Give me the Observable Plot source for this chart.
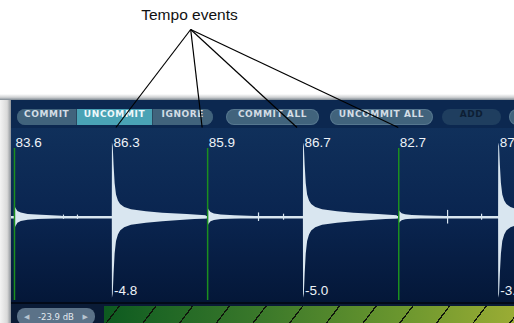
<!DOCTYPE html>
<html><head><meta charset="utf-8">
<script src="https://cdn.jsdelivr.net/npm/d3@7"></script>
<script src="https://cdn.jsdelivr.net/npm/@observablehq/plot@0.6"></script>
<style>
html,body{margin:0;padding:0;background:#fff;width:514px;height:323px;overflow:hidden;}
#root{position:relative;width:514px;height:323px;overflow:hidden;}
.abs{position:absolute;}
#title{left:0;width:379px;top:6px;line-height:18px;text-align:center;font-size:15.5px;font-family:"Liberation Sans",Arial,sans-serif;color:#111;}
#bevelTop{left:0;top:94px;width:514px;height:6px;background:linear-gradient(#ffffff,#cfd1d3 55%,#7d8791);}
#bevelLeft{left:0;top:100px;width:11px;height:223px;background:linear-gradient(to right,#f3f3f3,#d9d9d9 65%,#8b9197);}
#panel{left:11px;top:100px;width:503px;height:223px;background:#0c2850;}
.btn{position:absolute;top:109px;height:16px;line-height:16px;text-align:center;font:bold 9px "DejaVu Sans",sans-serif;letter-spacing:0.6px;color:#d3dde5;background:#41637c;border-radius:8px;box-shadow:inset 0 0 0 1px rgba(150,180,200,0.25);}
#group1{position:absolute;left:17px;top:109px;width:196px;height:16px;border-radius:8px;overflow:hidden;display:flex;box-shadow:inset 0 0 0 1px rgba(150,180,200,0.25);}
#group1 div{height:16px;line-height:16px;text-align:center;font:bold 9px "DejaVu Sans",sans-serif;letter-spacing:0.6px;color:#d3dde5;background:#41637c;}
#group1 div.on{background:#4aa3b5;color:#eef8fb;}
#wave{left:11px;top:128px;width:503px;height:174px;background:linear-gradient(#10305b,#0a2550 50%,#041738);}
#bottomRow{left:11px;top:302px;width:503px;height:21px;background:#0a1b36;border-top:2px solid #020a18;box-sizing:border-box;}
#db{left:17px;top:308px;width:78px;height:17px;border-radius:8px;background:#5b7288;display:flex;justify-content:space-between;align-items:center;padding:0 7px;box-sizing:border-box;font:8.5px "DejaVu Sans",sans-serif;color:#e2e9ef;}
#db span.ar{font-size:7px;color:#b7c4d0;}
#strip{left:104px;top:306px;width:410px;height:17px;
 background:repeating-linear-gradient(127.4deg,transparent 0px,transparent 11.5px,#10160c 11.5px,#10160c 12.8px,transparent 12.8px,transparent 29.15px),
 linear-gradient(to right,#0d5a20 0%,#1c6524 12%,#2b6e27 25%,#3a782a 38%,#6a962e 72%,#9aac34 100%);}
</style>
</head><body>
<div id="root">
  <div id="title" class="abs"></div>
  <div id="bevelTop" class="abs"></div>
  <div id="bevelLeft" class="abs"></div>
  <div id="panel" class="abs"></div>
  <div id="wave" class="abs"></div>
  <div id="bottomRow" class="abs"></div>
  <div id="db" class="abs"><span class="ar">◀</span><span id="dbText"></span><span class="ar">▶</span></div>
  <div id="strip" class="abs"></div>
</div>
<script>
// ---------- data ----------
const titleText = "Tempo events";
const groupButtons = ["COMMIT", "UNCOMMIT", "IGNORE"];
const activeButton = "UNCOMMIT";
const singleButtons = ["COMMIT ALL", "UNCOMMIT ALL", "ADD", ""];
const thresholdLabel = "-23.9 dB";

// tempo events (time in seconds)
const eventTimes = [0, 0.72, 1.42, 2.125, 2.825, 3.56];
const eventTempos = ["83.6", "86.3", "85.9", "86.7", "82.7", "87.1"];
const eventKinds = ["marker", "transient", "marker", "transient", "marker", "transient"];
const eventGains = [null, "-4.8", null, "-5.0", null, "-3.9"];
const peakUp = [0.15, 0.87, 0.12, 0.87, 0.09, 0.87];
const peakDown = [0.16, 0.95, 0.12, 0.95, 0.09, 0.95];
// events that the "Tempo events" callout points at
const calloutEvents = [1, 2, 3, 4];

// decay envelopes (offset s, relative level)
const bigOffsets = [0, 0.006, 0.012, 0.02, 0.03, 0.044, 0.06, 0.09, 0.14, 0.25, 0.37, 0.55, 0.69];
const bigLevels = [1, 0.95, 0.7, 0.45, 0.3, 0.22, 0.17, 0.13, 0.1, 0.075, 0.055, 0.035, 0.02];
const smallOffsets = [0, 0.01, 0.025, 0.05, 0.1, 0.2, 0.35];
const smallLevels = [1, 0.7, 0.45, 0.32, 0.22, 0.15, 0.08];

// small noise blips along the track
const blipTimes = [0.36, 0.463, 1.022, 1.096, 1.794, 1.978, 2.478, 3.184, 3.434];
const blipAmps = [0.025, 0.025, 0.025, 0.025, 0.05, 0.035, 0.035, 0.08, 0.035];

// ---------- chrome ----------
document.getElementById("title").textContent = titleText;
document.getElementById("dbText").textContent = thresholdLabel;
const root = document.getElementById("root");
const g1 = document.createElement("div"); g1.id = "group1";
const g1w = [60, 75, 61];
groupButtons.forEach((b, i) => {
  const d = document.createElement("div");
  d.textContent = b; d.style.width = g1w[i] + "px";
  if (b === activeButton) d.className = "on";
  if (i > 0) d.style.borderLeft = "1px solid #2a4860";
  g1.appendChild(d);
});
root.appendChild(g1);
const sbPos = [[226, 93], [330, 103], [442, 59], [509, 30]];
singleButtons.forEach((b, i) => {
  const d = document.createElement("div");
  d.className = "btn"; d.textContent = b;
  d.style.left = sbPos[i][0] + "px"; d.style.width = sbPos[i][1] + "px";
  if (b === "ADD") { d.style.background = "#1f3e5f"; d.style.color = "#0d1e34"; d.style.boxShadow = "none"; }
  root.appendChild(d);
});

// ---------- waveform ----------
const wave = "#d9e6f0";
const rows = [];
eventTimes.forEach((t0, i) => {
  const big = eventKinds[i] === "transient";
  const offs = big ? bigOffsets : smallOffsets;
  const lv = big ? bigLevels : smallLevels;
  rows.push({ev: i, t: t0 - 0.001, hi: 0, lo: 0});
  offs.forEach((o, j) => rows.push({ev: i, t: t0 + o, hi: peakUp[i] * lv[j], lo: -peakDown[i] * lv[j]}));
});
const events = eventTimes.map((t, i) => ({t, tempo: eventTempos[i], kind: eventKinds[i], gain: eventGains[i]}));
const blips = blipTimes.map((t, i) => ({t, a: blipAmps[i]}));

const plot = Plot.plot({
  width: 503, height: 174, margin: 0,
  x: {domain: [-0.022, 3.676], axis: null},
  y: {domain: [-1, 1.04], axis: null},
  style: {background: "transparent", overflow: "visible"},
  marks: [
    Plot.ruleY([0], {stroke: wave, strokeWidth: 2.4}),
    Plot.ruleX(blips, {x: "t", y1: d => -d.a, y2: d => d.a, stroke: wave, strokeWidth: 1.2}),
    Plot.areaY(rows, {x: "t", y1: "lo", y2: "hi", z: "ev", fill: wave, curve: "linear"}),
    Plot.ruleX(events.filter(d => d.kind === "marker"), {x: "t", stroke: "#1b8f1f", strokeWidth: 1.5, insetTop: 20, insetBottom: 2}),
    Plot.text(events, {x: "t", text: "tempo", frameAnchor: "top", textAnchor: "start", lineAnchor: "middle", dy: 14, dx: 1,
      fill: "#eef3f8", fontSize: 13.5, fontFamily: "Liberation Sans, Arial, sans-serif", style: {letterSpacing: "0.4px"}}),
    Plot.text(events.filter(d => d.gain), {x: "t", text: "gain", frameAnchor: "bottom", textAnchor: "start", lineAnchor: "middle", dy: -12, dx: 1.5,
      fill: "#eef3f8", fontSize: 13.5, fontFamily: "Liberation Sans, Arial, sans-serif", style: {letterSpacing: "0.4px"}})
  ]
});
document.getElementById("wave").appendChild(plot);

// ---------- callout lines (targets from the x scale) ----------
const xs = plot.scale("x");
const ns = "http://www.w3.org/2000/svg";
const ov = document.createElementNS(ns, "svg");
ov.setAttribute("width", 514); ov.setAttribute("height", 323);
ov.style.position = "absolute"; ov.style.left = "0"; ov.style.top = "0"; ov.style.pointerEvents = "none";
const apex = [190.7, 29.5];
const nudge = [4, -5, -6, 0];
calloutEvents.forEach((ei, k) => {
  const l = document.createElementNS(ns, "line");
  l.setAttribute("x1", apex[0]); l.setAttribute("y1", apex[1]);
  l.setAttribute("x2", 11 + xs.apply(eventTimes[ei]) + nudge[k]); l.setAttribute("y2", 127.5);
  l.setAttribute("stroke", "#000"); l.setAttribute("stroke-width", 1.2);
  ov.appendChild(l);
});
root.appendChild(ov);
</script>
</body></html>
